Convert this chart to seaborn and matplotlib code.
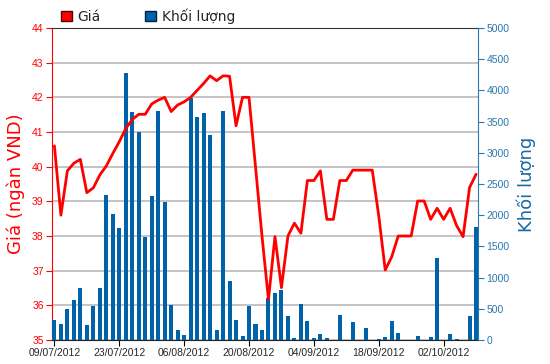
import numpy as np
import pandas as pd
import matplotlib
matplotlib.use("Agg")
import matplotlib.pyplot as plt
import seaborn as sns
from matplotlib.patches import Patch

# trading days 09/07/2012 - 09/10/2012 (03/09 market holiday)
dates = pd.bdate_range("2012-07-09", "2012-10-09")
dates = dates[dates != pd.Timestamp("2012-09-03")]

price = [40.6, 38.6, 39.88, 40.1, 40.21, 39.25, 39.39, 39.76, 40.02, 40.38,
         40.72, 41.1, 41.36, 41.51, 41.51, 41.81, 41.92, 42.0, 41.59, 41.78,
         41.87, 42.0, 42.2, 42.4, 42.62, 42.48, 42.62, 42.61, 41.18, 42.0,
         42.0, 40.0, 38.0, 36.17, 37.98, 36.51, 38.0, 38.37, 38.08, 39.6,
         39.6, 39.88, 38.48, 38.48, 39.6, 39.6, 39.9, 39.9, 39.9, 39.9,
         38.58, 37.02, 37.4, 38.0, 38.0, 38.0, 39.01, 39.01, 38.48, 38.8,
         38.48, 38.8, 38.3, 37.98, 39.4, 39.78]

volume = [320, 256, 491, 635, 838, 235, 540, 838, 2324, 2024,
          1800, 4284, 3649, 3338, 1646, 2303, 3665, 2207, 556, 160,
          75, 3873, 3579, 3633, 3285, 160, 3670, 945, 320, 64,
          545, 256, 160, 667, 748, 800, 385, 25, 575, 300,
          25, 96, 25, 0, 400, 0, 283, 0, 197, 0,
          21, 43, 304, 112, 0, 0, 69, 0, 43, 1320,
          0, 96, 21, 0, 380, 1816]

df = pd.DataFrame({"date": dates, "price": price, "volume": volume})
df["i"] = np.arange(len(df))

red = "#ff0000"
blue = "#0062a8"
axis_blue = "#2a78ae"

sns.set_style("white")
plt.rcParams["font.family"] = ["DejaVu Sans"]

fig = plt.figure(figsize=(5.5, 3.64), dpi=100)
ax = fig.add_axes([52 / 550, 1 - 340 / 364, 426 / 550, 312 / 364])
ax_vol = ax.twinx()
ax_line = ax.twinx()

# volume bars
sns.barplot(data=df, x="i", y="volume", ax=ax_vol, color=blue, width=0.62,
            saturation=1, edgecolor="none")
# price line
sns.lineplot(data=df, x="i", y="price", ax=ax_line, color=red, linewidth=2.0)

ax.set_xlim(-0.37, 65.3)
ax.set_ylim(35, 44)
ax_line.set_ylim(35, 44)
ax_vol.set_ylim(0, 5000)

ax.set_yticks(range(35, 45))
ax.grid(axis="y", color="#c4c4c4", linewidth=1.4)
ax.grid(axis="x", visible=False)

tick_idx = list(range(0, 61, 10))
ax.set_xticks(tick_idx)
ax.set_xticklabels([dates[i].strftime("%d/%m/%Y") for i in tick_idx],
                   fontfamily="Liberation Sans", fontsize=7.5)
ax.tick_params(axis="x", direction="out", length=4, color="black", pad=2, bottom=True)
ax.tick_params(axis="y", direction="out", length=4, color=red, labelcolor=red,
               labelsize=7.5, pad=2, left=True)
for lab in ax.get_yticklabels():
    lab.set_fontfamily("Liberation Sans")

ax_vol.set_yticks(range(0, 5001, 500))
ax_vol.tick_params(axis="y", direction="out", length=4, color=axis_blue,
                   labelcolor=axis_blue, labelsize=7.5, pad=2, right=True)
for lab in ax_vol.get_yticklabels():
    lab.set_fontfamily("Liberation Sans")

ax_line.set_yticks([])
ax_line.set_xlabel("")
ax_line.set_ylabel("")
ax_vol.set_xlabel("")
ax_vol.set_ylabel("")

for a in (ax_vol, ax_line):
    for s in a.spines.values():
        s.set_visible(False)
ax_vol.spines["right"].set_visible(True)
ax_vol.spines["right"].set_color(axis_blue)
ax.spines["left"].set_color(red)
ax.spines["top"].set_color("#333333")
ax.spines["bottom"].set_color("#222222")
ax.spines["right"].set_visible(False)

ax.set_ylabel("Giá (ngàn VND)", color=red, fontsize=13, labelpad=5)
ax_vol.set_ylabel("Khối lượng", color="#1a6aa0", fontsize=13, labelpad=5)
ax_vol.yaxis.set_label_position("right")

handles = [Patch(facecolor=red, edgecolor="#550000", label="Giá"),
           Patch(facecolor=blue, edgecolor="#002244", label="Khối lượng")]
fig.legend(handles=handles, loc="center left", bbox_to_anchor=(55 / 550, 1 - 16 / 364),
           ncol=2, frameon=False, fontsize=10, handlelength=0.8, handleheight=0.8,
           handletextpad=0.4, columnspacing=3.2, borderaxespad=0)

fig.savefig("out.png", dpi=100)
